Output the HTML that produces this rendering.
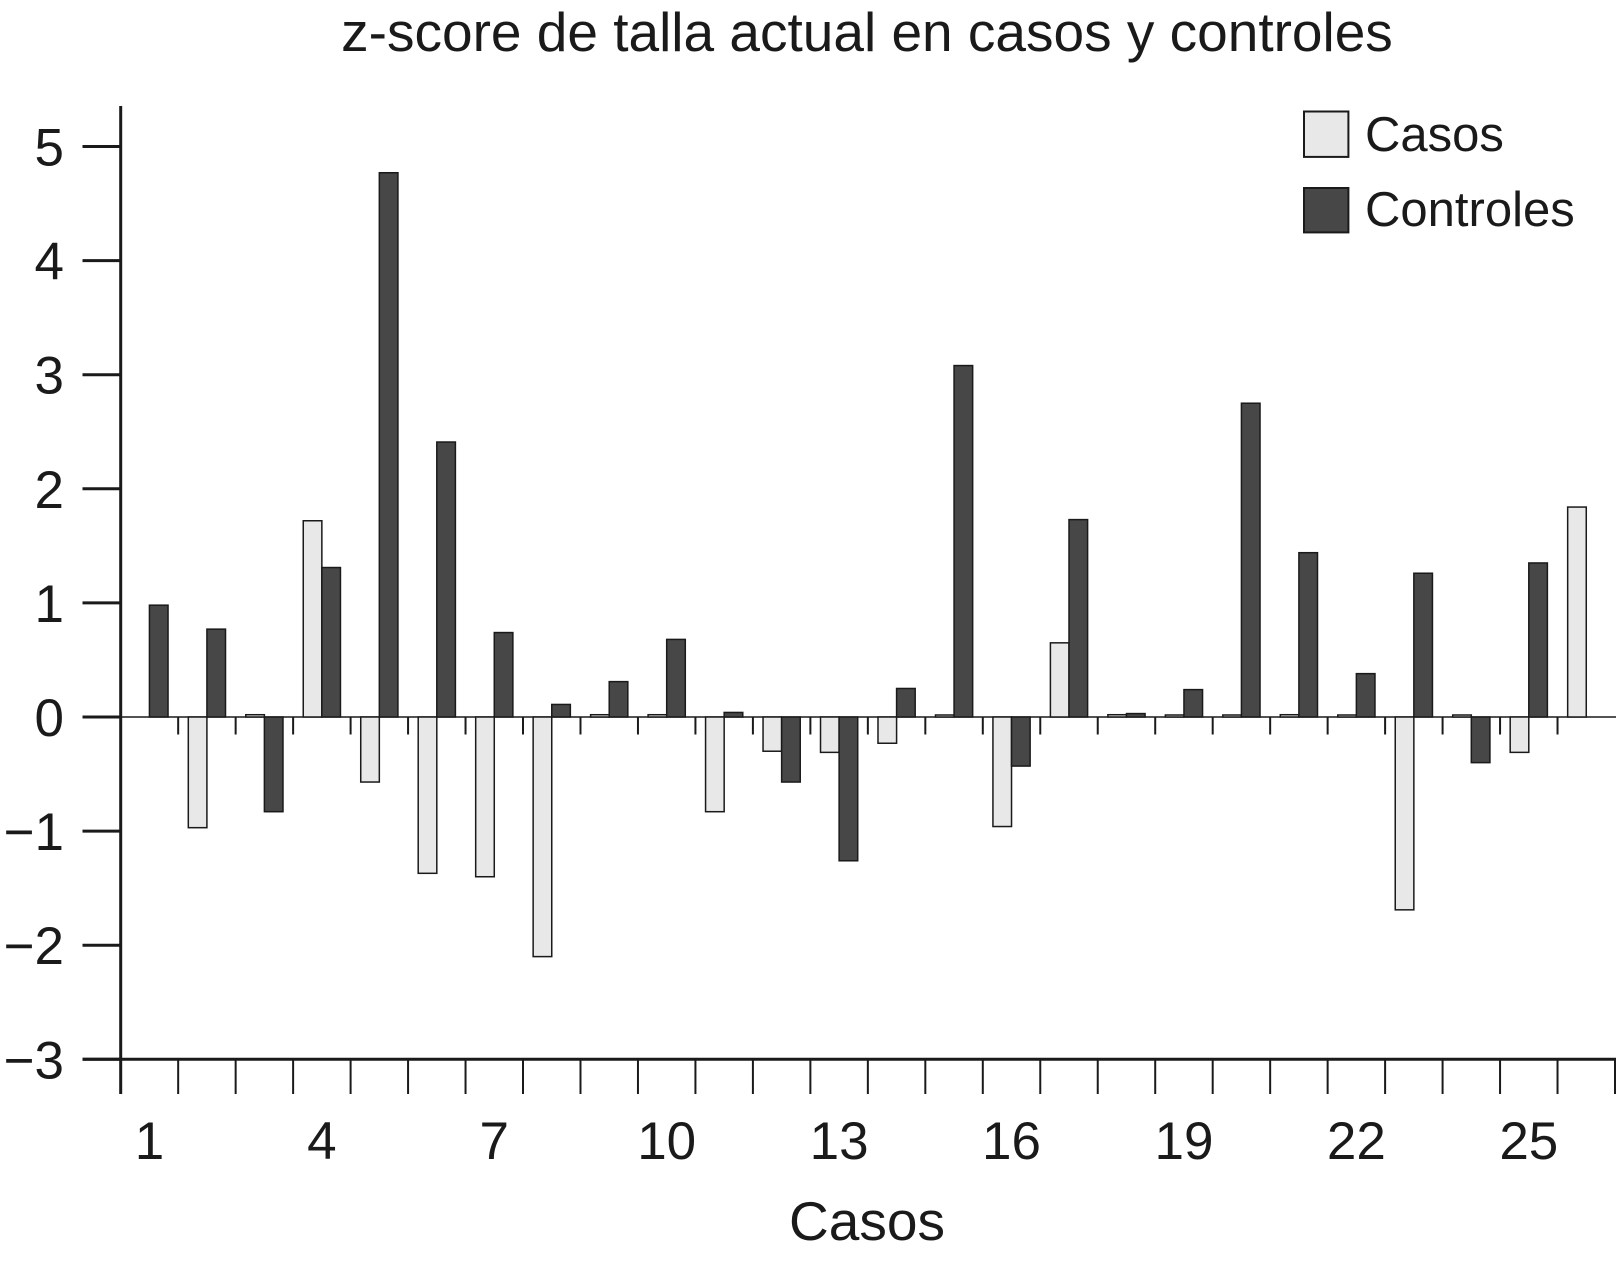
<!DOCTYPE html>
<html><head><meta charset="utf-8"><style>
body{margin:0;background:#fff}
svg text{font-family:"Liberation Sans",Arial,sans-serif;fill:#1a1a1a}
</style></head><body>
<svg id="chart" width="1618" height="1257" viewBox="0 0 1618 1257" xmlns="http://www.w3.org/2000/svg">
<text x="867" y="51" font-size="55" text-anchor="middle">z-score de talla actual en casos y controles</text>
<g id="axes"></g><g id="bars"></g>
<g>
<rect x="1304" y="111.5" width="44.4" height="45.4" fill="#e8e8e8" stroke="#1a1a1a" stroke-width="2"/>
<text x="1365" y="151" font-size="49">Casos</text>
<rect x="1304" y="188" width="44.4" height="44.4" fill="#474747" stroke="#1a1a1a" stroke-width="2"/>
<text x="1365" y="226" font-size="49">Controles</text>
</g>
<text x="867" y="1240" font-size="55" text-anchor="middle">Casos</text>
</svg>
<script>
const categories=[1,2,3,4,5,6,7,8,9,10,11,12,13,14,15,16,17,18,19,20,21,22,23,24,25,26];
const casos=[0,-0.97,0.02,1.72,-0.57,-1.37,-1.40,-2.10,0.02,0.02,-0.83,-0.30,-0.31,-0.23,0.01,-0.96,0.65,0.02,0.01,0.01,0.02,0.01,-1.69,0.01,-0.31,1.84];
const controles=[0.98,0.77,-0.83,1.31,4.77,2.41,0.74,0.11,0.31,0.68,0.04,-0.57,-1.26,0.25,3.08,-0.43,1.73,0.03,0.24,2.75,1.44,0.38,1.26,-0.40,1.35,0];
const yTicks=[-3,-2,-1,0,1,2,3,4,5];
const xLabels=[1,4,7,10,13,16,19,22,25];
const NS="http://www.w3.org/2000/svg";
const X0=120.7,XR=1615,GW=(XR-X0)/26,Y0=717,PU=114.1,BW=18.6;
const y=v=>Y0-v*PU;
const gx=i=>X0+i*GW;
const axes=document.getElementById('axes'),bars=document.getElementById('bars');
function mk(tag,attrs,parent){const e=document.createElementNS(NS,tag);for(const k in attrs)e.setAttribute(k,attrs[k]);parent.appendChild(e);return e;}
let e=mk('line',{x1:X0,y1:106,x2:X0,y2:1094,stroke:'#1a1a1a','stroke-width':3},axes);


e=mk('line',{x1:82.5,y1:y(-3),x2:XR+1,y2:y(-3),stroke:'#1a1a1a','stroke-width':3},axes);


e=mk('line',{x1:X0,y1:Y0,x2:XR+1,y2:Y0,stroke:'#1a1a1a','stroke-width':1.5},axes);


yTicks.forEach(t=>{
 let l=mk('line',{x1:82.5,y1:y(t),x2:X0,y2:y(t),stroke:'#1a1a1a','stroke-width':3},axes);
 
 
 let tx=mk('text',{x:64,y:y(t)+19,'font-size':53,'text-anchor':'end'},axes);
 tx.textContent=(t<0?'\u2212':'')+Math.abs(t);
 
 
});
for(let i=0;i<=categories.length;i++){
 let l=mk('line',{x1:gx(i),y1:y(-3),x2:gx(i),y2:1094,stroke:'#1a1a1a','stroke-width':2},axes);
 
 
 if(i>0&&i<categories.length){
  let s=mk('line',{x1:gx(i),y1:Y0,x2:gx(i),y2:Y0+17.5,stroke:'#1a1a1a','stroke-width':2},axes);
  
  
 }
}
categories.forEach((c,i)=>{
 if(xLabels.includes(c)){
  let tx=mk('text',{x:gx(i)+GW/2,y:1159,'font-size':53,'text-anchor':'middle'},axes);
  tx.textContent=c;
  
  
 }
 const cx=gx(i)+GW/2;
 [[casos[i],cx-BW,'#e8e8e8','bar-casos'],[controles[i],cx,'#474747','bar-controles']].forEach(([v,x0,f,n])=>{
  if(!v)return;
  const h=Math.max(Math.abs(y(v)-Y0),2);
  let r=mk('rect',{x:x0,y:v>0?Y0-h:Y0,width:BW,height:h,fill:f,stroke:'#1a1a1a','stroke-width':1.5},bars);
  
  
 });
});
</script>
</body></html>
